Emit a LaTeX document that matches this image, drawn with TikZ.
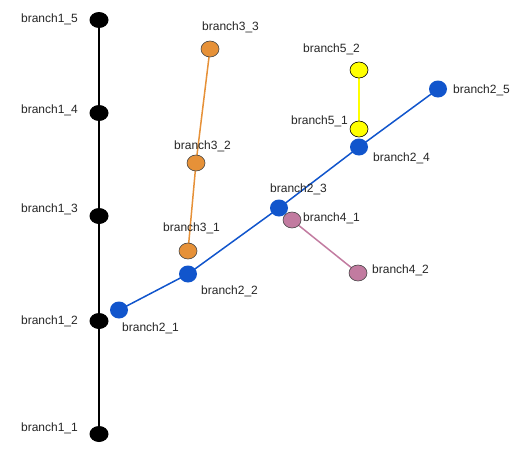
\documentclass[tikz,border=0pt]{standalone}
\usepackage{fontspec}
\setmainfont{Liberation Sans}
\usetikzlibrary{shapes.geometric,backgrounds}
\definecolor{bblue}{HTML}{1155CC}
\definecolor{borange}{HTML}{E69138}
\definecolor{bpink}{HTML}{C27BA0}
\definecolor{byellow}{HTML}{FFFF00}
\definecolor{bedge}{HTML}{444444}
\begin{document}
\begin{tikzpicture}[x=1pt,y=-1pt,
  dot/.style={ellipse,inner sep=0pt,minimum width=19pt,minimum height=16pt},
  blackdot/.style={dot,fill=black},
  bluedot/.style={dot,fill=bblue,minimum width=18pt,minimum height=17pt},
  orangedot/.style={dot,fill=borange,draw=bedge,line width=0.6pt,minimum width=18pt,minimum height=16pt},
  pinkdot/.style={dot,fill=bpink,draw=bedge,line width=0.6pt,minimum width=18pt,minimum height=16pt},
  yellowdot/.style={dot,fill=byellow,draw=black,line width=0.6pt,minimum width=18pt,minimum height=16pt},
  lab/.style={font=\fontsize{12}{14}\selectfont,inner sep=0pt,text=black!85},
  link/.style={line width=1.5pt}]
\useasboundingbox (0,0) rectangle (527,461);
% branch 1
\node[blackdot] (b15) at (99,20) {};
\node[blackdot] (b14) at (99,113) {};
\node[blackdot] (b13) at (99,216) {};
\node[blackdot] (b12) at (99,321) {};
\node[blackdot] (b11) at (99,434) {};
\node[lab,anchor=east] (l15) at (78,19) {branch1\_5};
\node[lab,anchor=east] (l14) at (78,110) {branch1\_4};
\node[lab,anchor=east] (l13) at (78,209) {branch1\_3};
\node[lab,anchor=east] (l12) at (78,321) {branch1\_2};
\node[lab,anchor=east] (l11) at (78,428) {branch1\_1};
% branch 2 nodes
\node[bluedot] (b21) at (119,310) {};
\node[bluedot] (b22) at (188,274) {};
\node[bluedot] (b23) at (279,208) {};
\node[bluedot] (b24) at (359,147) {};
\node[bluedot] (b25) at (438,89) {};
% branch 3 nodes
\node[orangedot] (b31) at (188,251) {};
\node[orangedot] (b32) at (196,163) {};
\node[orangedot] (b33) at (210,49) {};
% branch 4
\node[pinkdot] (b41) at (292,220) {};
\node[pinkdot] (b42) at (358,273) {};
% branch 5
\node[yellowdot] (b51) at (359,129) {};
\node[yellowdot] (b52) at (359,70) {};
% edges
\begin{scope}[on background layer]
\draw[link,black,line width=2pt] (b11.center) -- (b12.center) -- (b13.center) -- (b14.center) -- (b15.center);
\draw[link,borange] (b31.center) -- (b32.center) -- (b33.center);
\draw[link,bpink] (b41.center) -- (b42.center);
\draw[link,byellow] (b51.center) -- (b52.center);
\draw[link,bblue] (b21.center) -- (b22.center) -- (b23.center) -- (b24.center) -- (b25.center);
\end{scope}
% labels
\node[lab,anchor=west] (l21) at (122,328) {branch2\_1};
\node[lab,anchor=west] (l22) at (201,291) {branch2\_2};
\node[lab,anchor=west] (l23) at (270,189) {branch2\_3};
\node[lab,anchor=west] (l24) at (373,158) {branch2\_4};
\node[lab,anchor=west] (l25) at (453,90) {branch2\_5};
\node[lab,anchor=west] (l31) at (163,228) {branch3\_1};
\node[lab,anchor=west] (l32) at (174,146) {branch3\_2};
\node[lab,anchor=west] (l33) at (202,27) {branch3\_3};
\node[lab,anchor=west] (l41) at (303,218) {branch4\_1};
\node[lab,anchor=west] (l42) at (372,270) {branch4\_2};
\node[lab,anchor=west] (l51) at (291,121) {branch5\_1};
\node[lab,anchor=west] (l52) at (303,49) {branch5\_2};
\end{tikzpicture}
\end{document}
